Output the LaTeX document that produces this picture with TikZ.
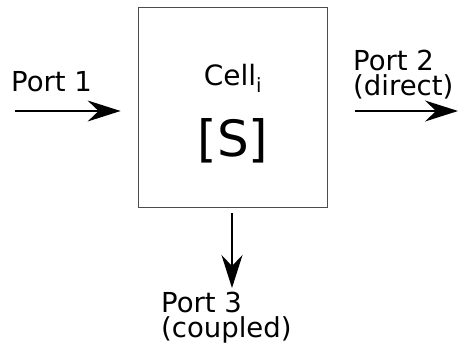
\documentclass[tikz,border=0pt]{standalone}
\usepackage{fontspec}
\setmainfont{DejaVu Sans}
\usetikzlibrary{arrows.meta}
\begin{document}
\begin{tikzpicture}[x=1pt,y=1pt,
  lbl/.style={font=\fontsize{27.5}{25}\selectfont, inner sep=0pt, align=left, anchor=base west},
  port/.style={line width=1.3pt, -{Stealth[length=33pt,width=21pt,inset=11pt]}},
  cellbox/.style={draw=black!70, line width=0.8pt, minimum width=189pt, minimum height=200pt, inner sep=0pt}]
  \useasboundingbox (0,0) rectangle (458,353);
  % the cell block
  \node[cellbox] (box) at (232.5,246) {};
  \node[font=\fontsize{28}{30}\selectfont, inner sep=0pt, anchor=base] (name) at (233,267) {Cell\textsubscript{i}};
  \node[font=\fontsize{50}{52}\selectfont, inner sep=0pt, anchor=base] (mat) at (233,196) {[S]};
  % port labels (anchored at the baseline of their last line)
  \node[lbl] (p1) at (11,261) {Port 1};
  \node[lbl] (p2) at (353,257) {Port 2\\(direct)};
  \node[lbl] (p3) at (161,15) {Port 3\\(coupled)};
  % port arrows
  \coordinate (in1) at (15,242);
  \coordinate (out2) at (458,242);
  \coordinate (out3) at (232,65);
  \draw[port, shorten >=17pt] (in1) -- (in1 -| box.west);
  \draw[port, shorten <=28pt] (out2 -| box.east) -- (out2);
  \draw[port, shorten <=6pt] (out3 |- box.south) -- (out3);
\end{tikzpicture}
\end{document}
